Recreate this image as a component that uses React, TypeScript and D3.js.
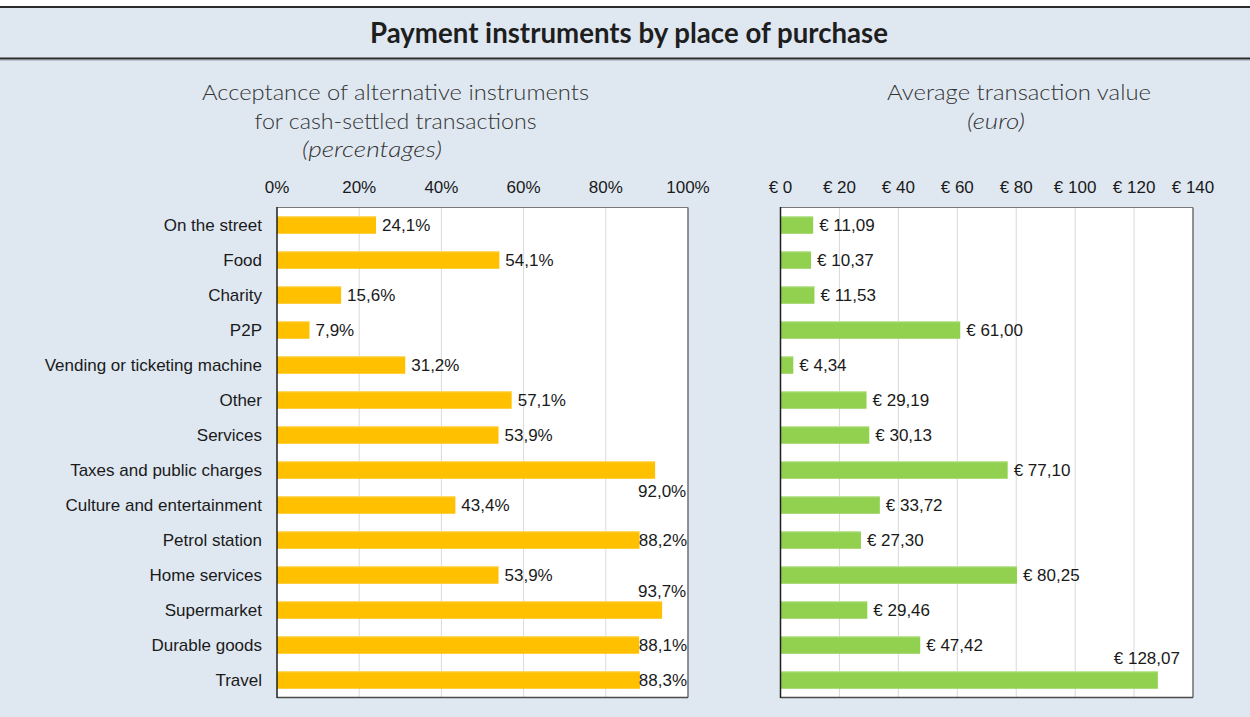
import React, { useEffect, useRef } from 'react';
import * as d3 from 'd3';

// place of purchase, top to bottom
const places = [
    'On the street',
    'Food',
    'Charity',
    'P2P',
    'Vending or ticketing machine',
    'Other',
    'Services',
    'Taxes and public charges',
    'Culture and entertainment',
    'Petrol station',
    'Home services',
    'Supermarket',
    'Durable goods',
    'Travel',
];

// acceptance of alternative instruments (%)
const acceptance = [24.1, 54.1, 15.6, 7.9, 31.2, 57.1, 53.9, 92.0, 43.4, 88.2, 53.9, 93.7, 88.1, 88.3];

// average transaction value (euro)
const avgValue = [11.09, 10.37, 11.53, 61.0, 4.34, 29.19, 30.13, 77.1, 33.72, 27.3, 80.25, 29.46, 47.42, 128.07];

const pctTicks = [0, 20, 40, 60, 80, 100];
const euroTicks = [0, 20, 40, 60, 80, 100, 120, 140];

const W = 1250;
const H = 717;
const LABEL_FONT = '"Liberation Sans", Arial, sans-serif';
const HEAD_FONT = 'Lato, "Open Sans", sans-serif';

const App: React.FC = () => {
    const svgRef = useRef<SVGSVGElement>(null);

    useEffect(() => {
        if (!svgRef.current) return;
        const svg = d3.select(svgRef.current);
        svg.selectAll('*').remove();

        // background + header rules
        svg.append('rect').attr('width', W).attr('height', H).attr('fill', '#ffffff');
        svg.append('rect').attr('x', 0).attr('y', 7).attr('width', W).attr('height', H - 7).attr('fill', '#dfe8f1');
        svg.append('line').attr('x1', 0).attr('x2', W).attr('y1', 7).attr('y2', 7)
            .attr('stroke', '#2b2b2b').attr('stroke-width', 2);
        svg.append('line').attr('x1', 0).attr('x2', W).attr('y1', 58.5).attr('y2', 58.5)
            .attr('stroke', '#2b2b2b').attr('stroke-width', 2);
        svg.append('line').attr('x1', 0).attr('x2', W).attr('y1', 60.5).attr('y2', 60.5)
            .attr('stroke', '#b9c2cc').attr('stroke-width', 1);

        svg.append('text')
            .attr('x', 629).attr('y', 43)
            .attr('text-anchor', 'middle')
            .attr('font-family', HEAD_FONT).attr('font-weight', 700).attr('font-size', 28)
            .attr('fill', '#1e1e1e')
            .attr('textLength', 518).attr('lengthAdjust', 'spacingAndGlyphs')
            .text('Payment instruments by place of purchase');

        const heading = (x: number, y: number, txt: string, len: number, italic = false) => {
            svg.append('text')
                .attr('x', x).attr('y', y)
                .attr('text-anchor', 'middle')
                .attr('font-family', HEAD_FONT).attr('font-weight', 300).attr('font-size', 22)
                .attr('font-style', italic ? 'italic' : 'normal')
                .attr('fill', '#333333')
                .attr('textLength', len).attr('lengthAdjust', 'spacingAndGlyphs')
                .text(txt);
        };
        heading(395.5, 100, 'Acceptance of alternative instruments', 387);
        heading(395.5, 129, 'for cash-settled transactions', 282);
        heading(372, 157, '(percentages)', 140, true);
        heading(1019, 100, 'Average transaction value', 264);
        heading(996, 129, '(euro)', 58, true);

        const y = d3.scaleBand<string>()
            .domain(places)
            .range([207.5, 697.5])
            .paddingInner(0.5)
            .paddingOuter(0.25);

        // labels Excel moved off the bar end because they did not fit
        const moved: Record<string, { dx: number; dy: number }> = {
            'Taxes and public charges': { dx: 7, dy: 21 },
            'Supermarket': { dx: 0, dy: -19 },
        };
        const movedRight: Record<string, { dx: number; dy: number }> = {
            'Travel': { dx: -11, dy: -22 },
        };

        const panel = (
            values: number[],
            x: d3.ScaleLinear<number, number>,
            ticks: number[],
            tickFmt: (d: number) => string,
            valFmt: (d: number) => string,
            color: string,
            highlight: string,
            shifts: Record<string, { dx: number; dy: number }>,
        ) => {
            const [x0, x1] = x.range();
            const g = svg.append('g');

            g.append('rect')
                .attr('x', x0).attr('y', 207.5)
                .attr('width', x1 - x0).attr('height', 490)
                .attr('fill', '#ffffff');

            g.selectAll('line.grid')
                .data(ticks.slice(1, -1))
                .join('line')
                .attr('class', 'grid')
                .attr('x1', d => x(d)).attr('x2', d => x(d))
                .attr('y1', 208).attr('y2', 697)
                .attr('stroke', '#d9d9d9').attr('stroke-width', 1);

            // frame: grey top/right, dark bottom/left
            g.append('line').attr('x1', x0).attr('x2', x1).attr('y1', 207.5).attr('y2', 207.5)
                .attr('stroke', '#7a7a7a').attr('stroke-width', 1);
            g.append('line').attr('x1', x1).attr('x2', x1).attr('y1', 207.5).attr('y2', 697.5)
                .attr('stroke', '#6e6e6e').attr('stroke-width', 1.5);
            g.append('line').attr('x1', x0).attr('x2', x1).attr('y1', 697.5).attr('y2', 697.5)
                .attr('stroke', '#4a4a4a').attr('stroke-width', 1.5);

            g.selectAll('text.tick')
                .data(ticks)
                .join('text')
                .attr('class', 'tick')
                .attr('x', d => x(d)).attr('y', 193)
                .attr('text-anchor', 'middle')
                .attr('font-family', LABEL_FONT).attr('font-size', 17)
                .attr('fill', '#1a1a1a')
                .text(d => tickFmt(d));

            const rows = places.map((p, i) => ({ p, v: values[i] }));

            g.selectAll('rect.bar')
                .data(rows)
                .join('rect')
                .attr('class', 'bar')
                .attr('x', x0)
                .attr('y', d => y(d.p)!)
                .attr('width', d => x(d.v) - x0)
                .attr('height', y.bandwidth())
                .attr('fill', color);

            g.selectAll('line.hl')
                .data(rows)
                .join('line')
                .attr('class', 'hl')
                .attr('x1', x0).attr('x2', d => x(d.v))
                .attr('y1', d => y(d.p)! + 0.5).attr('y2', d => y(d.p)! + 0.5)
                .attr('stroke', highlight).attr('stroke-width', 1);

            g.append('line').attr('x1', x0).attr('x2', x0).attr('y1', 207).attr('y2', 698)
                .attr('stroke', '#1f1f1f').attr('stroke-width', 1.5);

            const labels = g.selectAll<SVGTextElement, { p: string; v: number }>('text.val')
                .data(rows)
                .join('text')
                .attr('class', 'val')
                .attr('font-family', LABEL_FONT).attr('font-size', 17)
                .attr('fill', '#1a1a1a')
                .attr('dominant-baseline', 'central')
                .attr('y', d => y(d.p)! + y.bandwidth() / 2 + (shifts[d.p]?.dy ?? 0))
                .text(d => valFmt(d.v));

            labels.each(function (d) {
                const t = d3.select(this);
                const end = x(d.v);
                const w = this.getComputedTextLength();
                const s = shifts[d.p];
                if (s) {
                    t.attr('x', end + s.dx).attr('text-anchor', 'middle');
                } else if (end + 6 + w > x1) {
                    t.attr('x', x1 - 1).attr('text-anchor', 'end');
                } else {
                    t.attr('x', end + 6).attr('text-anchor', 'start');
                }
            });
        };

        const comma = (n: number, digits: number) => n.toFixed(digits).replace('.', ',');

        panel(
            acceptance,
            d3.scaleLinear().domain([0, 100]).range([277, 688]),
            pctTicks,
            d => `${d}%`,
            d => `${comma(d, 1)}%`,
            '#ffc000',
            '#ffdc73',
            moved,
        );

        panel(
            avgValue,
            d3.scaleLinear().domain([0, 140]).range([780.5, 1193]),
            euroTicks,
            d => `€ ${d}`,
            d => `€ ${comma(d, 2)}`,
            '#92d050',
            '#c4e8a3',
            movedRight,
        );

        // category labels
        svg.append('g')
            .selectAll('text')
            .data(places)
            .join('text')
            .attr('x', 262)
            .attr('y', d => y(d)! + y.bandwidth() / 2)
            .attr('dominant-baseline', 'central')
            .attr('text-anchor', 'end')
            .attr('font-family', LABEL_FONT).attr('font-size', 17)
            .attr('fill', '#1a1a1a')
            .text(d => d);
    }, []);

    return (
        <svg
            ref={svgRef}
            width={W}
            height={H}
            viewBox={`0 0 ${W} ${H}`}
            style={{ position: 'absolute', top: 0, left: 0, display: 'block' }}
        />
    );
};

export default App;
